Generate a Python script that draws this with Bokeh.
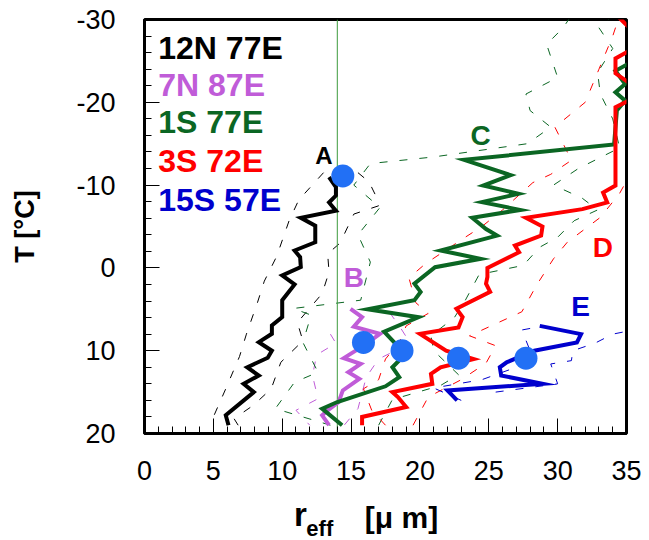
from bokeh.plotting import figure
from bokeh.layouts import column
from bokeh.models import Range1d, SingleIntervalTicker, PrintfTickFormatter
from bokeh.core.properties import value
from bokeh.embed import file_html
from bokeh.resources import INLINE

FONT = "Liberation Sans"

# ---- data ----
names = ["12N 77E", "7N 87E", "1S 77E", "3S 72E", "15S 57E"]
name_colors = ["#000000", "#C05CD8", "#0B6623", "#FF0000", "#0000CD"]
name_t = [-26.56, -22.13, -17.6, -12.97, -8.26]

black_x = [13.4, 13.9, 13.9, 13.4, 13.9, 11.35, 12.4, 12.4, 10.9, 11.3, 11.35, 10.0, 10.9, 10.0, 10.0, 9.25, 9.25, 8.3, 9.25, 8.95, 7.46, 8.3, 7.2, 7.94, 5.9, 6.1]
black_t = [-10.95, -9.75, -8.74, -7.9, -6.9, -6.05, -5.1, -3.1, -2.1, -1.3, -0.1, 0.9, 2.0, 3.9, 5.95, 6.96, 7.96, 8.97, 10.0, 10.86, 12.0, 13.0, 14.0, 15.0, 17.8, 19.0]

purple_x = [14.96, 15.8, 15.2, 17.1, 16.0, 14.47, 15.7, 14.8, 15.6, 14.4, 14.1, 13.3, 12.9, 13.4]
purple_t = [4.94, 5.95, 7.1, 7.96, 9.3, 10.9, 11.6, 12.6, 13.4, 14.8, 16.2, 17.2, 17.8, 19.0]

green_x = [35.5, 34.2, 34.9, 34.2, 34.9, 34.3, 34.1, 23.2, 26.6, 24.6, 27.15, 24.5, 27.3, 23.8, 24.8, 25.6, 21.5, 24.4, 21.1, 19.6, 20.05, 19.6, 16.2, 19.9, 17.4, 18.7, 18.6, 18.0, 18.5, 17.5, 14.0, 12.9, 14.35]
green_t = [-25.0, -23.8, -22.2, -21.2, -20.2, -19.0, -14.9, -13.05, -11.2, -9.95, -8.95, -7.94, -7.0, -6.05, -4.7, -3.9, -2.1, -1.1, -0.08, 1.9, 2.9, 3.9, 5.0, 5.95, 7.7, 10.0, 11.0, 12.0, 13.2, 14.3, 16.2, 17.0, 19.0]

red_x = [34.3, 35.5, 35.5, 34.2, 34.2, 35.5, 35.5, 34.2, 34.2, 33.3, 33.6, 31.8, 27.7, 28.9, 28.8, 26.9, 27.2, 24.9, 24.9, 24.8, 25.1, 22.65, 23.1, 22.8, 20.0, 21.9, 23.9, 21.5, 20.8, 20.9, 18.0, 18.4, 19.0, 15.8, 15.8]
red_t = [-30.5, -28.5, -26.5, -25.3, -23.5, -22.0, -20.5, -19.4, -9.95, -9.1, -7.9, -7.1, -6.05, -5.0, -3.9, -2.7, -1.9, 0.0, 1.1, 1.9, 2.9, 4.94, 5.95, 7.2, 7.96, 10.0, 11.0, 12.0, 12.8, 14.0, 15.0, 15.6, 16.8, 18.0, 19.0]

blue_x = [28.7, 31.7, 31.4, 28.3, 26.3, 25.8, 25.9, 28.9, 22.0, 22.7]
blue_t = [7.0, 8.0, 9.0, 10.0, 11.4, 12.0, 13.0, 14.0, 14.8, 16.0]

# spread (dashed) profiles
black_lo_x = [13.0, 11.2, 10.5, 9.6, 8.7, 8.2, 7.4, 6.9, 5.9, 5.0, 4.8]
black_lo_t = [-11.5, -8.2, -5.7, -1.4, 1.6, 4.2, 8.0, 10.7, 14.6, 18.0, 19.0]
black_hi_x = [15.5, 16.3, 16.8, 17.0, 15.2, 14.2, 13.3, 13.4, 12.9, 11.1, 11.5, 9.9, 9.2, 7.9, 6.5, 6.8]
black_hi_t = [-11.5, -10.4, -8.7, -7.5, -6.5, -3.0, -1.7, 0.5, 3.1, 6.6, 8.8, 11.4, 14.6, 16.6, 18.2, 19.0]

purple_lo_x = [13.5, 13.9, 12.5, 12.2, 12.6, 11.0, 12.0]
purple_lo_t = [8.0, 9.1, 10.5, 13.0, 15.8, 17.2, 19.0]
purple_hi_x = [17.8, 18.5, 19.3, 17.0, 16.1, 15.5, 14.5]
purple_hi_t = [5.4, 7.0, 9.1, 11.0, 13.2, 17.0, 19.0]

green_lo_x = [13.5, 9.5, 10.9, 12.6, 11.5, 12.1, 10.8, 15.7, 16.4, 15.5, 17.1, 15.2, 16.4, 21.0, 27.8, 29.5, 28.0, 27.7, 30.0, 29.2, 30.4, 31.0]
green_lo_t = [19.0, 17.0, 13.8, 12.6, 9.0, 5.7, 4.9, 3.9, -0.7, -4.0, -7.3, -10.0, -12.6, -13.4, -15.0, -17.0, -19.0, -21.0, -23.0, -27.0, -29.0, -30.5]
green_hi_x = [17.0, 18.0, 21.5, 22.8, 21.0, 20.8, 22.5, 23.3, 24.3, 27.5, 28.7, 30.0, 31.2, 32.9, 31.8, 29.7, 31.5, 34.5, 34.0, 33.1, 32.9, 34.0, 33.0, 34.0]
green_hi_t = [19.0, 15.9, 14.2, 12.9, 10.0, 8.2, 6.0, 3.9, 0.8, -0.3, -2.5, -3.7, -5.7, -7.0, -8.4, -10.0, -12.0, -14.5, -18.0, -21.0, -23.6, -26.5, -29.0, -30.5]

red_lo_x = [17.5, 16.5, 15.9, 17.0, 17.5, 18.5, 19.0, 20.6, 19.7, 19.2, 20.4, 23.1, 24.5, 26.0, 28.2, 29.5, 31.0, 29.8, 32.0, 33.0, 34.0, 34.5]
red_lo_t = [19.0, 17.2, 14.6, 13.5, 11.0, 9.0, 7.0, 5.5, 4.2, 1.2, -0.5, -3.5, -5.0, -7.0, -10.3, -11.3, -13.0, -17.0, -20.0, -24.0, -28.0, -30.5]
red_hi_x = [19.5, 20.6, 23.0, 24.8, 25.5, 23.6, 27.4, 28.5, 29.7, 30.7, 33.1, 34.5, 35.5]
red_hi_t = [19.0, 15.6, 13.5, 11.5, 9.4, 8.2, 5.3, 2.0, -1.1, -3.1, -6.1, -9.0, -12.0]

blue_lo_x = [23.0, 21.0, 24.5, 27.0, 28.0, 27.4, 29.0]
blue_lo_t = [16.0, 14.5, 13.5, 12.0, 10.0, 7.5, 7.0]
blue_hi_x = [25.5, 30.0, 29.5, 31.0, 31.1, 32.7, 34.0, 35.5]
blue_hi_t = [15.0, 14.0, 11.6, 11.2, 10.0, 9.1, 8.0, 7.5]

dot_x = [14.4, 15.9, 18.7, 22.8, 27.7]
dot_t = [-11.1, 9.0, 10.0, 10.9, 10.9]

ref_x = 14.0

letters = ["A", "B", "C", "D", "E"]
letter_x = [13.02, 15.2, 24.4, 33.28, 31.66]
letter_t = [-13.57, 1.16, -15.99, -2.5, 4.64]
letter_size = ["24px", "28px", "28px", "28px", "28px"]

# x-axis title pieces (text, x in data units, vertical centre in pixel rows of the page)
xtitle_text = ["r", "eff", "[μ m]"]
xtitle_x = [10.85, 11.75, 16.0]
xtitle_mid = [514.0, 527.5, 516.5]
xtitle_size = ["33px", "22px", "30px"]

H_MAIN, H_SUB = 495, 45
xr = Range1d(0, 35)

# ---- main figure ----
p = figure(frame_width=482, frame_height=414, output_backend="svg", toolbar_location=None, title=None,
           x_range=xr, y_range=Range1d(20, -30),
           min_border_left=144, min_border_right=23, min_border_top=19, min_border_bottom=62)
p.xgrid.visible = False
p.ygrid.visible = False
p.outline_line_color = "black"
p.outline_line_width = 3

for ax, tk in ((p.xaxis[0], SingleIntervalTicker(interval=5, num_minor_ticks=5)),
               (p.yaxis[0], SingleIntervalTicker(interval=10, num_minor_ticks=5))):
    ax.ticker = tk
    ax.formatter = PrintfTickFormatter(format="%d")
    ax.axis_line_width = 3
    ax.axis_line_color = "black"
    ax.major_tick_in = 15
    ax.major_tick_out = 0
    ax.minor_tick_in = 7
    ax.minor_tick_out = 0
    ax.major_tick_line_color = "black"
    ax.minor_tick_line_color = "black"
    ax.major_label_text_font = FONT
    ax.major_label_text_font_size = "27px"
    ax.major_label_text_color = "black"
p.xaxis.major_label_standoff = 27
p.yaxis.major_label_standoff = 29
p.yaxis.axis_label = "T [°C]"
p.yaxis.axis_label_text_font = FONT
p.yaxis.axis_label_text_font_style = "bold"
p.yaxis.axis_label_text_font_size = "27px"
p.yaxis.axis_label_text_color = "black"
p.yaxis.axis_label_standoff = 33

DASH = "8 12"
for xs, ts, c in ((black_lo_x, black_lo_t, "#000000"), (black_hi_x, black_hi_t, "#000000"),
                  (purple_lo_x, purple_lo_t, "#C05CD8"), (purple_hi_x, purple_hi_t, "#C05CD8"),
                  (green_lo_x, green_lo_t, "#0B6623"), (green_hi_x, green_hi_t, "#0B6623"),
                  (red_lo_x, red_lo_t, "#FF0000"), (red_hi_x, red_hi_t, "#FF0000"),
                  (blue_lo_x, blue_lo_t, "#0000CD"), (blue_hi_x, blue_hi_t, "#0000CD")):
    p.line(xs, ts, line_color=c, line_width=1, line_dash=DASH)

p.line([ref_x, ref_x], [20, -30], line_color="#3C9A3C", line_width=1)

for xs, ts, c in ((black_x, black_t, "#000000"), (purple_x, purple_t, "#C05CD8"),
                  (green_x, green_t, "#0B6623"), (red_x, red_t, "#FF0000"),
                  (blue_x, blue_t, "#0000CD")):
    p.line(xs, ts, line_color=c, line_width=4, line_join="miter")

p.scatter(dot_x, dot_t, size=23, fill_color="#2270F5", line_color=None)

p.text([1.0] * len(names), name_t, text=names, text_color=name_colors,
       text_font=value(FONT), text_font_style="bold", text_font_size="32px",
       text_baseline="middle", text_align="left")

p.text(letter_x, letter_t, text=letters, text_color=name_colors,
       text_font=value(FONT), text_font_style="bold", text_font_size=letter_size,
       text_baseline="middle", text_align="center")

# ---- x-axis title strip ----
s = figure(frame_width=482, frame_height=H_SUB, output_backend="svg", toolbar_location=None, title=None,
           x_range=xr, y_range=Range1d(H_MAIN + H_SUB, H_MAIN),
           x_axis_location=None, y_axis_location=None,
           min_border_left=144, min_border_right=23, min_border_top=0, min_border_bottom=0)
s.xgrid.visible = False
s.ygrid.visible = False
s.outline_line_color = None
s.text(xtitle_x, xtitle_mid, text=xtitle_text, text_color="black",
       text_font=value(FONT), text_font_style="bold", text_font_size=xtitle_size,
       text_baseline="middle", text_align="left")

layout = column(p, s, spacing=0)
open("out.html", "w").write(file_html(layout, INLINE))
